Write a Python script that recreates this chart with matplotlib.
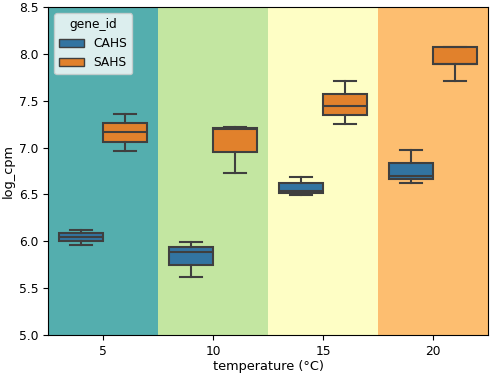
import matplotlib
matplotlib.use("Agg")
import matplotlib.pyplot as plt
from matplotlib.patches import Patch

# Dados (estatísticas das caixas)
temperaturas = ["5", "10", "15", "20"]
genes = ["CAHS", "SAHS"]

cahs_whislo = [5.96, 5.62, 6.49, 6.62]
cahs_q1 = [6.00, 5.75, 6.51, 6.66]
cahs_med = [6.045, 5.88, 6.54, 6.70]
cahs_q3 = [6.09, 5.94, 6.625, 6.835]
cahs_whishi = [6.12, 5.99, 6.69, 6.97]

sahs_whislo = [6.96, 6.73, 7.255, 7.71]
sahs_q1 = [7.06, 6.95, 7.35, 7.89]
sahs_med = [7.165, 7.20, 7.44, 7.89]
sahs_q3 = [7.26, 7.21, 7.57, 8.07]
sahs_whishi = [7.36, 7.22, 7.71, 8.07]

cores_genes = ["#3274a1", "#e1812c"]
cores_fundo = ["#54aeae", "#c3e6a1", "#fefec5", "#fdbe70"]

plt.rcParams["font.size"] = 8.8


def stats(wlo, q1, med, q3, whi):
    return [dict(whislo=a, q1=b, med=c, q3=d, whishi=e, fliers=[])
            for a, b, c, d, e in zip(wlo, q1, med, q3, whi)]


fig = plt.figure(figsize=(4.91, 3.75), dpi=100)
ax = fig.add_axes([0.098, 0.107, 0.896, 0.874])

# Faixas de fundo por temperatura
for i, cor in enumerate(cores_fundo):
    ax.axvspan(i - 0.5, i + 0.5, color=cor, lw=0, zorder=0)

posicoes = list(range(len(temperaturas)))
linha = dict(color="#3f3f3f", linewidth=1.5)
grupos = [stats(cahs_whislo, cahs_q1, cahs_med, cahs_q3, cahs_whishi),
          stats(sahs_whislo, sahs_q1, sahs_med, sahs_q3, sahs_whishi)]
for k, (st, cor) in enumerate(zip(grupos, cores_genes)):
    desloc = -0.2 if k == 0 else 0.2
    ax.bxp(st, positions=[p + desloc for p in posicoes], widths=0.4,
           patch_artist=True, showfliers=False,
           boxprops=dict(facecolor=cor, edgecolor="#3f3f3f", linewidth=1.5),
           medianprops=linha, whiskerprops=linha, capprops=linha,
           capwidths=0.2, zorder=2)

ax.set_xlim(-0.5, 3.5)
ax.set_ylim(5.0, 8.5)
ax.set_xticks(posicoes)
ax.set_xticklabels(temperaturas)
ax.set_yticks([5.0, 5.5, 6.0, 6.5, 7.0, 7.5, 8.0, 8.5])
ax.set_xlabel("temperature (°C)", fontsize=9.3, labelpad=1.5)
ax.set_ylabel("log_cpm", fontsize=9.3, labelpad=3)

handles = [Patch(facecolor=c, edgecolor="#3f3f3f", label=g)
           for g, c in zip(genes, cores_genes)]
ax.legend(handles=handles, title="gene_id", loc="upper left")

fig.savefig("out.png", dpi=100)
